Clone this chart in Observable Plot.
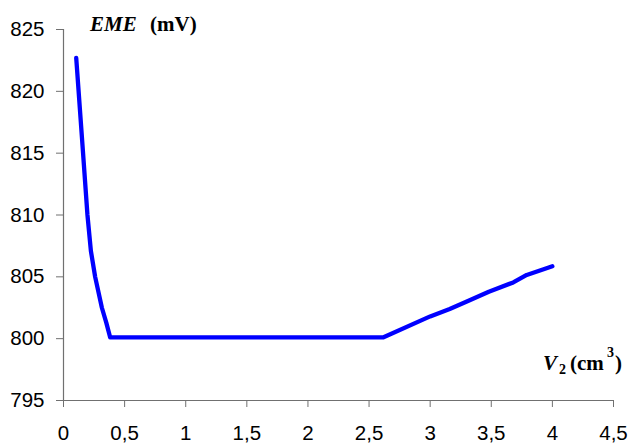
<!DOCTYPE html>
<html>
<head>
<meta charset="utf-8">
<script src="https://cdn.jsdelivr.net/npm/d3@7"></script>
<script src="https://cdn.jsdelivr.net/npm/@observablehq/plot@0.6"></script>
<style>
  html, body { margin: 0; padding: 0; background: #fff; }
</style>
</head>
<body>
<div id="chart"></div>
<script>
// Data
const volume = [0.104, 0.160, 0.196, 0.224, 0.259, 0.314, 0.35, 0.382, 2.614, 3.0, 3.16, 3.30, 3.48, 3.68, 3.79, 4.0];
const eme    = [822.7, 815.0, 810.0, 807.1, 805.0, 802.5, 801.3, 800.1, 800.1, 801.8, 802.4, 803.0, 803.8, 804.55, 805.15, 805.85];

const xDomain = [0, 4.5];
const yDomain = [795, 825];
const xTicks = [0, 0.5, 1, 1.5, 2, 2.5, 3, 3.5, 4, 4.5];
const yTicks = [795, 800, 805, 810, 815, 820, 825];

const data = volume.map((v, i) => ({v, e: eme[i]}));
const axisColor = "#707070";
const fmtComma = d => String(d).replace(".", ",");

const chart = Plot.plot({
  width: 632,
  height: 444,
  marginLeft: 63,
  marginRight: 19,
  marginTop: 29,
  marginBottom: 44,
  style: {fontFamily: "'Liberation Sans', Arial, sans-serif", fontSize: "20.5px", background: "#fff", color: "#000"},
  x: {domain: xDomain},
  y: {domain: yDomain},
  marks: [
    Plot.axisX({ticks: xTicks, tickFormat: fmtComma, tickSize: 7, tickPadding: 18, stroke: axisColor, fill: "#000", label: null}),
    Plot.axisY({ticks: yTicks, tickSize: 7, tickPadding: 12, stroke: axisColor, fill: "#000", label: null}),
    Plot.ruleY([yDomain[0]], {stroke: axisColor, strokeWidth: 1.2}),
    Plot.ruleX([xDomain[0]], {stroke: axisColor, strokeWidth: 1.2}),
    Plot.line(data, {x: "v", y: "e", stroke: "#0000ff", strokeWidth: 4.3})
  ]
});

const svg = d3.select(chart);
const serif = "'Liberation Serif', 'Times New Roman', serif";
function addText(str, x, y, size, italic) {
  svg.append("text")
    .attr("x", x).attr("y", y)
    .attr("text-anchor", "start")
    .attr("font-family", serif)
    .attr("font-size", size)
    .attr("font-weight", "bold")
    .attr("font-style", italic ? "italic" : "normal")
    .attr("fill", "#000")
    .text(str);
}
// y-axis title
addText("EME", 90, 31, 21, true);
addText("(mV)", 150, 31, 21, false);
// x-axis title
addText("V", 543, 370, 21, true);
addText("2", 559, 374, 14, false);
addText("(cm", 570, 370, 21, false);
addText("3", 607, 357, 14, false);
addText(")", 615, 370, 21, false);

document.getElementById("chart").appendChild(chart);
</script>
</body>
</html>
